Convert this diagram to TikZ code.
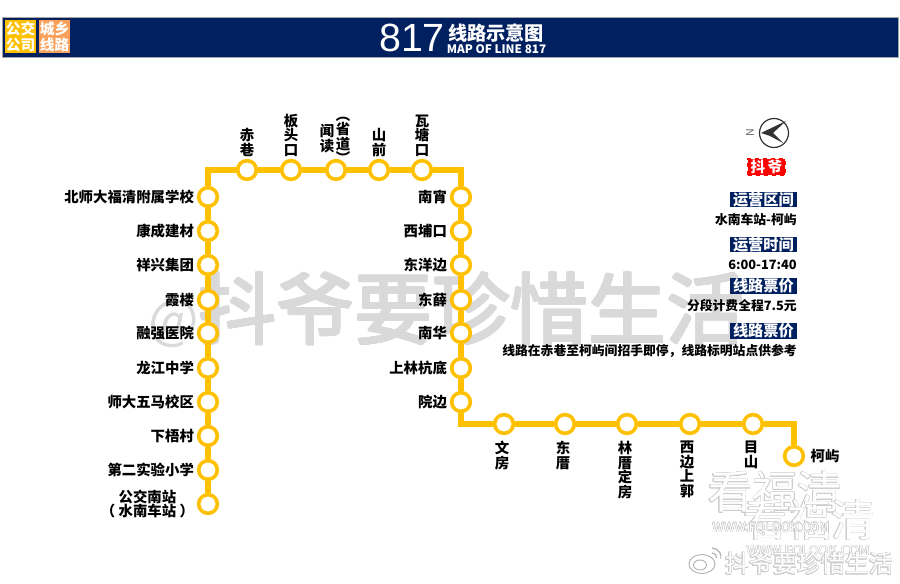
\documentclass[tikz,border=0pt]{standalone}
\usepackage{fontspec}
\usepackage{contour}
\setmainfont{Noto Sans CJK SC}
\newfontfamily\numfont{Liberation Sans}
\usetikzlibrary{positioning}
\definecolor{barblue}{HTML}{002060}
\definecolor{lineyellow}{HTML}{FFC000}
\definecolor{badgeorange}{HTML}{F9A05A}
\definecolor{markgray}{HTML}{D9D9D9}
\contourlength{0.3pt}
\contournumber{16}

\begin{document}
\begin{tikzpicture}[
  x=0.75pt, y=-0.75pt,
  stop/.style={draw=lineyellow, fill=white, circle, line width=2.7pt, minimum size=14pt, inner sep=0pt},
  route/.style={draw=lineyellow, line width=3.9pt, line join=miter},
  stopname/.style={font=\fontsize{10.8}{10.9}\selectfont\bfseries, align=center, inner sep=0pt},
  badge/.style={minimum width=23pt, minimum height=24.5pt, inner sep=0pt, text=white, align=center, font=\fontsize{11}{12}\selectfont\bfseries},
  infohead/.style={fill=barblue, text=white, minimum width=50pt, minimum height=11.5pt, inner sep=0pt, anchor=east, font=\fontsize{11.4}{11}\selectfont\bfseries},
  infotext/.style={anchor=east, inner sep=0pt, font=\fontsize{9.6}{11}\selectfont\bfseries},
  bigmark/.style={text=markgray, inner sep=0pt, font=\fontsize{58.5}{60}\selectfont},
  ghost/.style={text=white, inner sep=0pt},
]
  \useasboundingbox (0,0) rectangle (900,584);

  % Watermark
  \contourlength{0.9pt}
  \node[bigmark, anchor=west] (wm) at (148,310) {{\fontsize{40}{40}\selectfont @}\contour{markgray}{抖爷要珍惜生活}};
  \contourlength{0.3pt}

  % Title bar
  \node[fill=barblue, draw=black!35, line width=0.5pt, minimum width=672pt, minimum height=30pt, inner sep=0pt] (bar) at (450,37) {};
  \node[badge, fill=lineyellow] (bus) at (20.5,36.5) {公交\\公司};
  \node[badge, fill=badgeorange] (rural) at (54.5,36.5) {城乡\\线路};
  \node[text=white, inner sep=0pt, font=\fontsize{29.5}{30}\selectfont\numfont] (num) at (412,38) {817};
  \node[text=white, inner sep=0pt, font=\fontsize{14.4}{15}\selectfont\bfseries] (title) at (496,33) {线路示意图};
  \node[text=white, inner sep=0pt, font=\fontsize{8.8}{9}\selectfont\bfseries] (sub) at (496.5,49.5) {MAP OF LINE 817};

  % Left column
  \foreach \i/\y in {1/197, 2/231, 3/265, 4/300, 5/333, 6/368, 7/402, 8/436, 9/470, 10/504}
    \node[stop] (a\i) at (208,\y) {};
  \foreach \i/\t in {1/北师大福清附属学校, 2/康成建材, 3/祥兴集团, 4/霞楼, 5/融强医院, 6/龙江中学, 7/师大五马校区, 8/下梧村, 9/第二实验小学}
    \node[stopname, left=2pt of a\i] (a\i-name) {\t};
  \node[stopname, left=2pt of a10] (a10-name) {公交南站\\（ 水南车站 ）};

  % Right column
  \foreach \i/\y in {1/197, 2/231, 3/265, 4/300, 5/333, 6/368, 7/402}
    \node[stop] (c\i) at (461,\y) {};
  \foreach \i/\t in {1/南宵, 2/西埔口, 3/东洋边, 4/东薛, 5/南华, 6/上林杭底, 7/院边}
    \node[stopname, left=2pt of c\i] (c\i-name) {\t};

  % Top row
  \foreach \i/\x in {1/247, 2/291, 3/336, 4/379, 5/422}
    \node[stop] (b\i) at (\x,170) {};
  \node[stopname, above=1.5pt of b1] (b1-name) {赤\\巷};
  \node[stopname, above=1.5pt of b2] (b2-name) {板\\头\\口};
  \node[stopname, anchor=south] (b3-name) at (327,153) {闻\\读};
  \node[stopname, anchor=south] (b3-road) at (343,164) {︵\\省\\道\\︶};
  \node[stopname, above=1.5pt of b4] (b4-name) {山\\前};
  \node[stopname, above=1.5pt of b5] (b5-name) {瓦\\塘\\口};

  % Bottom row
  \foreach \i/\x in {1/504, 2/565, 3/627, 4/690, 5/753}
    \node[stop] (d\i) at (\x,424) {};
  \node[stop] (last) at (794,456) {};
  \node[stopname, anchor=north] (d1-name) at (502,441) {文\\房};
  \node[stopname, anchor=north] (d2-name) at (563,441) {东\\厝};
  \node[stopname, anchor=north] (d3-name) at (625,441) {林\\厝\\定\\房};
  \node[stopname, anchor=north] (d4-name) at (687,441) {西\\边\\上\\郭};
  \node[stopname, anchor=north] (d5-name) at (751,441) {目\\山};
  \node[stopname, right=4pt of last] (last-name) {柯屿};

  % Corners
  \coordinate (ctl) at (208,170);
  \coordinate (ctr) at (461,170);
  \coordinate (cbr) at (461,424);
  \coordinate (cend) at (794,424);

  % Route
  \draw[route] (a1) -- (ctl) -- (b1);
  \draw[route] (b5) -- (ctr) -- (c1);
  \draw[route] (c7) -- (cbr) -- (d1);
  \draw[route] (d5) -- (cend) -- (last);
  \foreach \p/\q in {a1/a2, a2/a3, a3/a4, a4/a5, a5/a6, a6/a7, a7/a8, a8/a9, a9/a10, b1/b2, b2/b3, b3/b4, b4/b5, c1/c2, c2/c3, c3/c4, c4/c5, c5/c6, c6/c7, d1/d2, d2/d3, d3/d4, d4/d5}
    \draw[route] (\p) -- (\q);

  % Compass
  \draw[black!80, line width=0.9pt] (774,133) circle (14.5);
  \fill[black!80] (761,133) -- (786,121) -- (773,133) -- (783,143) -- (770,136) -- cycle;
  \node[rotate=90, inner sep=0pt, text=black!60, font=\fontsize{8}{8}\selectfont\rmfamily] (north) at (750,133) {N};

  % Stamp
  \node[fill=red, text=white, draw=red, line width=0.8pt, dashed, minimum width=28pt, minimum height=12.5pt, inner sep=0pt, font=\fontsize{11}{11}\selectfont\bfseries] (seal) at (766.5,167) {抖\,爷};

  % Info panel
  \node[infohead] (range) at (797,199.5) {运营区间};
  \node[infotext] (rangetext) at (797,220) {水南车站-柯屿};
  \node[infohead] (hours) at (797,244.5) {运营时间};
  \node[infotext] (hourstext) at (797,265) {6:00-17:40};
  \node[infohead] (fare) at (797,286) {线路票价};
  \node[infotext] (faretext) at (797,306) {分段计费全程7.5元};
  \node[infohead] (fare2) at (797,331) {线路票价};
  \node[infotext] (notetext) at (797,351) {线路在赤巷至柯屿间招手即停，线路标明站点供参考};

  % Corner marks
  \node[ghost, font=\fontsize{33.5}{33}\selectfont] (fq1) at (775,492) {\contour{black!20}{看福清}};
  \node[ghost, font=\fontsize{33}{33}\selectfont] (fq2) at (809,520) {\contour{black!20}{看福清}};
  \node[ghost, font=\fontsize{9.5}{9}\selectfont] (url1) at (771,529) {\contour{black!20}{WWW.FQLOOK.COM}};
  \node[ghost, font=\fontsize{10}{9}\selectfont] (url2) at (808,552) {\contour{black!20}{WWW.FQLOOK.COM}};
  \node[ghost, font=\fontsize{18}{17}\selectfont] (weibo) at (809,564) {\contour{black!20}{抖爷要珍惜生活}};
  \draw[black!30, line width=0.7pt] (702,564) ellipse (13 and 9.5);
  \draw[black!30, line width=0.7pt] (700,565) ellipse (6.5 and 5);
  \draw[black!30, line width=0.9pt] (712,548) arc (-90:10:9);
  \draw[black!30, line width=0.9pt] (712,553) arc (-90:10:4.5);
\end{tikzpicture}
\end{document}
